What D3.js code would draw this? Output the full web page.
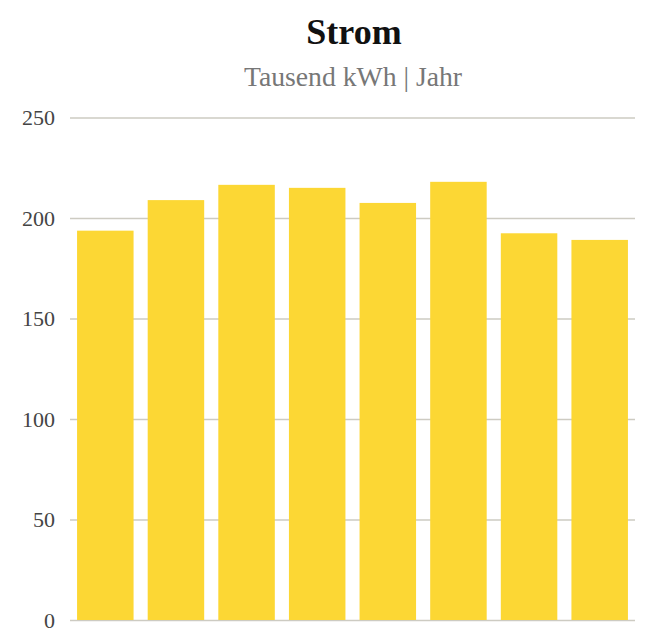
<!DOCTYPE html>
<html><head><meta charset="utf-8">
<script src="https://cdn.jsdelivr.net/npm/d3@7"></script>
<style>body{margin:0;background:#fff}</style>
</head><body>
<svg id="c" width="648" height="632"></svg>
<script>
const categories = ["1","2","3","4","5","6","7","8"];
const values = [193.7, 208.9, 216.5, 215, 207.5, 218, 192.4, 189.1];
const yTicks = [0, 50, 100, 150, 200, 250];
const title = "Strom";
const subtitle = "Tausend kWh | Jahr";

const svg = d3.select("#c");
const m = {left: 70, right: 13, top: 118, bottom: 12};
const W = 648, H = 632;
const x = d3.scaleBand().domain(categories).range([m.left, W - m.right]).paddingInner(0.2).paddingOuter(0.1);
const y = d3.scaleLinear().domain([0, 250]).range([620, 117.5]);

svg.append("text").attr("x", 354).attr("y", 43.5).attr("text-anchor", "middle")
  .attr("font-family", "Liberation Serif").attr("font-weight", "bold").attr("font-size", 36).attr("fill", "#111").text(title);
svg.append("text").attr("x", 353).attr("y", 86).attr("text-anchor", "middle")
  .attr("font-family", "Liberation Serif").attr("font-size", 27.7).attr("fill", "#777").text(subtitle);

const ax = svg.append("g").attr("transform", `translate(${m.left},0)`)
  .call(d3.axisLeft(y).tickValues(yTicks).tickSize(-(W - m.right - m.left)).tickPadding(15));
ax.select(".domain").remove();
ax.selectAll(".tick line").attr("stroke", "#cdcbc2").attr("stroke-width", 1.5);
ax.selectAll(".tick text").attr("font-family", "Liberation Serif").attr("font-size", 22).attr("fill", "#444");

svg.append("g").selectAll("rect").data(values).join("rect")
  .attr("x", (d, i) => x(categories[i])).attr("width", x.bandwidth())
  .attr("y", d => y(d)).attr("height", d => y(0) - y(d))
  .attr("fill", "#fcd734");
</script>
</body></html>
